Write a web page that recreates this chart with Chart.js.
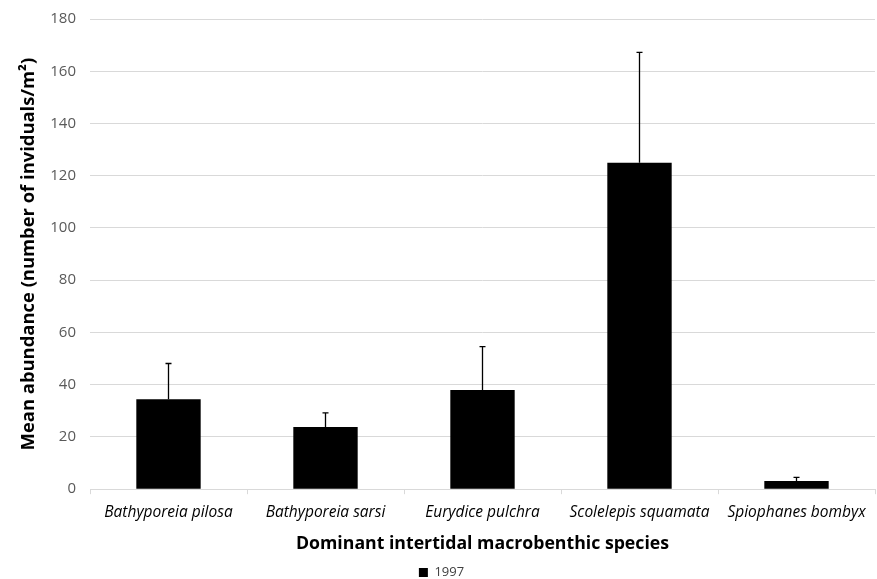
<!DOCTYPE html>
<html>
<head>
<meta charset="utf-8">
<script src="https://cdn.jsdelivr.net/npm/chart.js@4"></script>
<style>
  body { margin: 0; background: #fff; }
  #wrap { width: 877px; height: 579px; }
</style>
</head>
<body>
<div id="wrap"><canvas id="myChart"></canvas></div>
<script>
const especies = [
  "Bathyporeia pilosa",
  "Bathyporeia sarsi",
  "Eurydice pulchra",
  "Scolelepis squamata",
  "Spiophanes bombyx",
];
const medias = [34.4, 23.8, 38.0, 125.0, 3.1];
const errores = [13.7, 5.4, 16.6, 42.2, 1.4];
const yTicks = [0, 20, 40, 60, 80, 100, 120, 140, 160, 180];

// barras de error (solo hacia arriba)
const errorBars = {
  id: "errorBars",
  afterDatasetsDraw(c) {
    const ctx = c.ctx;
    const meta = c.getDatasetMeta(0);
    const y = c.scales.y;
    ctx.save();
    ctx.strokeStyle = "#000";
    ctx.lineWidth = 1.3;
    meta.data.forEach((bar, i) => {
      const top = y.getPixelForValue(medias[i] + errores[i]);
      const base = y.getPixelForValue(medias[i]);
      ctx.beginPath();
      ctx.moveTo(bar.x, base);
      ctx.lineTo(bar.x, top);
      ctx.moveTo(bar.x - 3, top);
      ctx.lineTo(bar.x + 3, top);
      ctx.stroke();
    });
    ctx.restore();
  },
};

new Chart(document.getElementById("myChart"), {
  type: "bar",
  data: {
    labels: especies,
    datasets: [
      {
        label: "1997",
        data: medias,
        backgroundColor: "#000",
        borderColor: "#000",
        borderWidth: 0,
        barPercentage: 0.41,
        categoryPercentage: 1,
      },
    ],
  },
  plugins: [errorBars],
  options: {
    responsive: true,
    maintainAspectRatio: false,
    animation: false,
    layout: { padding: { top: 19, right: 2, left: 8, bottom: -10 } },
    scales: {
      y: {
        min: 0,
        max: 180,
        afterBuildTicks: (s) => { s.ticks = yTicks.map((v) => ({ value: v })); },
        afterFit: (s) => { s.width = 82; s.paddingTop = 0; },
        grid: { color: "#d9d9d9", lineWidth: 1, drawTicks: false },
        border: { display: false },
        ticks: { color: "#595959", font: { family: "Open Sans", size: 15 }, padding: 14 },
        title: {
          display: true,
          text: "Mean abundance (number of inviduals/m²)",
          color: "#000",
          font: { family: "Open Sans", size: 18.4, weight: "bold" },
          padding: { top: 10, bottom: 0 },
        },
      },
      x: {
        grid: { display: true, drawOnChartArea: false, color: "#d9d9d9", tickLength: 5 },
        border: { color: "#d9d9d9" },
        ticks: { color: "#000", font: { family: "Open Sans", size: 15.5, style: "italic" }, padding: 9 },
        title: {
          display: true,
          text: "Dominant intertidal macrobenthic species",
          color: "#000",
          font: { family: "Open Sans", size: 17.7, weight: "bold" },
          padding: { top: 3, bottom: 11 },
        },
      },
    },
    plugins: {
      legend: {
        position: "bottom",
        labels: {
          boxWidth: 9,
          boxHeight: 9,
          color: "#404040",
          font: { family: "Open Sans", size: 13 },
          padding: 0,
        },
      },
      tooltip: { enabled: false },
    },
  },
});
</script>
</body>
</html>
